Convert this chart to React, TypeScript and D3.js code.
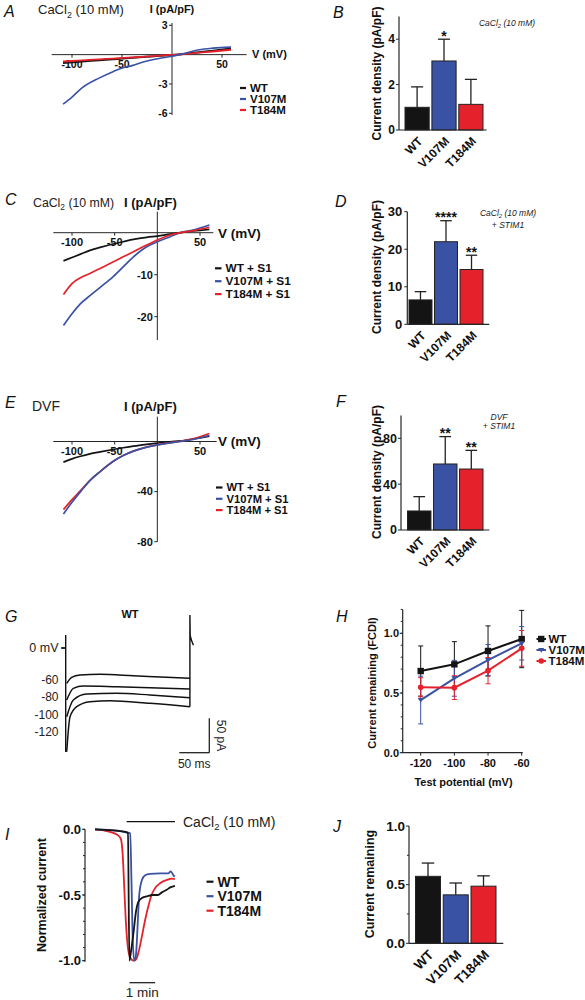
import React from 'react';
import * as d3 from 'd3';

const FONT = "'Liberation Sans', Arial, Helvetica, sans-serif";
const AXIS = '#262626';
const groups = ['WT', 'V107M', 'T184M'];
const groupColors = ['#141414', '#3a52a3', '#e5222b'];

// ---------- A: CaCl2 (10 mM) I-V ----------
const ivA_voltage = [-109, -100, -90, -73, -59, -49, -39, -26, -13, 0, 14, 27, 41, 59];
const ivA_WT = [-0.85, -0.78, -0.7, -0.58, -0.47, -0.4, -0.32, -0.22, -0.12, -0.03, 0.1, 0.25, 0.4, 0.62];
const ivA_V107M = [-5.07, -4.34, -3.4, -2.4, -1.74, -1.34, -1.1, -0.67, -0.4, -0.17, 0.17, 0.5, 0.67, 0.77];
const ivA_T184M = [-0.7, -0.65, -0.58, -0.48, -0.4, -0.34, -0.28, -0.2, -0.1, -0.02, 0.08, 0.2, 0.32, 0.5];
const ivA_xTicks = [-100, -50, 50];
const ivA_yTicks = [3, -3, -6];

// ---------- C: CaCl2 + STIM1 I-V ----------
const ivC_voltage = [-110, -100, -90, -79, -67, -52, -40, -28, -12.5, 0, 15, 27, 42, 61];
const ivC_WT = [-6.7, -5.9, -5.1, -4.2, -3.5, -2.7, -2.15, -1.6, -1.1, -0.8, -0.35, 0, 0.4, 0.8];
const ivC_V107M = [-22.1, -19.3, -16.9, -15.0, -13.0, -10.5, -8.15, -5.75, -3.35, -2.15, -0.95, 0, 0.65, 1.85];
const ivC_T184M = [-14.7, -12.1, -10.7, -9.7, -8.5, -6.95, -5.75, -4.55, -2.95, -1.75, -0.55, 0, 0.48, 1.3];
const ivC_xTicks = [-100, -50, 50];
const ivC_yTicks = [-10, -20];

// ---------- E: DVF + STIM1 I-V ----------
const ivE_voltage = [-110, -100, -90, -79, -67, -52, -40, -28, -12.5, 0, 15, 27, 42, 61];
const ivE_WT = [-16.5, -13.9, -11.8, -9.9, -8.3, -6.4, -5, -3.7, -2.3, -1.3, -0.2, 0.5, 2, 4.3];
const ivE_V107M = [-57.9, -48.5, -40, -31.2, -24, -16, -11.2, -7.7, -4.5, -2.7, -1.1, 0, 1.6, 4.8];
const ivE_T184M = [-54.4, -46.4, -39.2, -31, -24, -16, -11.2, -7.7, -4.5, -2.7, -1.0, 0.2, 2.2, 6.4];
const ivE_xTicks = [-100, -50, 50];
const ivE_yTicks = [-40, -80];

// ---------- Bar panels ----------
const barB_mean = [1.0, 3.04, 1.13];
const barB_err = [0.9, 0.96, 1.1];
const barB_stars = ['', '*', ''];
const barB_ticks = [0, 2, 4];

const barD_mean = [6.5, 22.0, 14.6];
const barD_err = [2.2, 5.6, 3.8];
const barD_stars = ['', '****', '**'];
const barD_ticks = [0, 10, 20, 30];

const barF_mean = [16.6, 57.6, 53.2];
const barF_err = [12.5, 23.9, 16.3];
const barF_stars = ['', '**', '**'];
const barF_ticks = [0, 40, 80];

const barJ_mean = [0.571, 0.413, 0.487];
const barJ_err = [0.113, 0.101, 0.088];
const barJ_stars = ['', '', ''];
const barJ_ticks = [0, 0.5, 1.0];
const barJ_minor = [0.25, 0.75];

// ---------- G: WT current traces (ms, pA) ----------
const gTrace1_t = [1.7, 10, 23.8, 57, 112.7, 168, 207];
const gTrace1_pA = [-51.3, -42.6, -39.2, -38.2, -40.3, -42.6, -44];
const gTrace2_t = [1.7, 12.7, 29.3, 85, 140.5, 207];
const gTrace2_pA = [-75.6, -58.6, -55.2, -56.3, -57.7, -59.6];
const gTrace3_t = [1.7, 12.7, 35, 85, 140.5, 207];
const gTrace3_pA = [-99.9, -75.6, -66.9, -65.8, -68.3, -72.2];
const gTrace4_t = [1.7, 7.2, 18.3, 40.5, 73.8, 140.5, 207];
const gTrace4_pA = [-150.7, -99.9, -85.3, -78, -76.6, -80.4, -85.3];
const gOnset_pA = [19, -151];
const gOffset_t = [207, 207, 207.5, 210, 213];
const gOffset_pA = [-85.3, 48, 18, 10, 4];
const gLevels = ['-60', '-80', '-100', '-120'];

// ---------- H: current remaining vs test potential ----------
const hVoltage = [-120, -100, -80, -60];
const hWT = [0.684, 0.74, 0.852, 0.952];
const hWT_err = [0.21, 0.19, 0.21, 0.24];
const hV107M = [0.441, 0.623, 0.776, 0.916];
const hV107M_err = [0.2, 0.15, 0.13, 0.14];
const hT184M = [0.548, 0.545, 0.687, 0.874];
const hT184M_err = [0.08, 0.1, 0.11, 0.15];
const hYTicks = [0, 0.5, 1.0];

// ---------- I: normalized current time course (min) ----------
const iWT_t = [0, 1.2, 1.28, 1.34, 1.4, 1.49, 1.6, 1.69, 1.85, 2.01, 2.27, 2.45, 2.6, 2.79, 2.95, 3.11];
const iWT_v = [0, -0.02, -0.03, -1.0, -0.93, -0.8, -0.62, -0.55, -0.52, -0.51, -0.5, -0.5, -0.48, -0.46, -0.44, -0.43];
const iV107M_t = [0, 0.9, 1.25, 1.37, 1.42, 1.47, 1.53, 1.58, 1.63, 1.68, 1.73, 1.82, 1.95, 2.14, 2.53, 2.85, 2.95, 3.05, 3.11];
const iV107M_v = [0, -0.01, -0.025, -0.03, -0.4, -0.85, -1.0, -0.98, -0.85, -0.64, -0.48, -0.39, -0.35, -0.34, -0.335, -0.335, -0.32, -0.35, -0.36];
const iT184M_t = [0, 0.5, 0.85, 1.0, 1.08, 1.14, 1.2, 1.28, 1.38, 1.5, 1.6, 1.7, 1.82, 1.95, 2.07, 2.2, 2.33, 2.53, 2.8, 3.0, 3.11];
const iT184M_v = [0, -0.015, -0.04, -0.07, -0.2, -0.45, -0.7, -0.9, -0.98, -1.0, -0.99, -0.93, -0.82, -0.69, -0.59, -0.5, -0.45, -0.41, -0.385, -0.375, -0.38];
const iYTicks = [0, -0.5, -1.0];
const iApplication = [1.23, 3.11];
const iScaleBar = [1.34, 2.34];

// ---------- helpers ----------
function CaCl2({ x, y, size, italic = false, anchor = 'start' }: any) {
  return (
    <text x={x} y={y} fontSize={size} fontStyle={italic ? 'italic' : 'normal'} textAnchor={anchor} fill="#222">
      CaCl<tspan fontSize={size * 0.68} dy={size * 0.28}>2</tspan>
      <tspan dy={-size * 0.28}> (10 mM)</tspan>
    </text>
  );
}

function PanelLetter({ x, y, t }: any) {
  return <text x={x} y={y} fontSize={16} fontStyle="italic" fill="#111">{t}</text>;
}

function pathXY(xs: any, ys: any, X: number[], Y: number[], curve: any = d3.curveMonotoneX) {
  return d3.line<number>().x(i => xs(X[i])).y(i => ys(Y[i])).curve(curve)(X.map((_, i) => i)) || '';
}

function Legend({ x, y, step, labels, colors, size, dash = 7 }: any) {
  return (
    <g>
      {labels.map((l: string, i: number) => (
        <g key={l}>
          <line x1={x} x2={x + dash} y1={y + i * step} y2={y + i * step} stroke={colors[i]} strokeWidth={2.2} />
          <text x={x + dash + 4} y={y + i * step} dy="0.35em" fontSize={size} fontWeight="bold" fill="#111">{l}</text>
        </g>
      ))}
    </g>
  );
}

function IVChart({ xs, ys, xLine, yLine, voltage, series, xTicks, yTicks, tickFont }: any) {
  const x0 = xs(0), y0 = ys(0);
  return (
    <g>
      <line x1={xLine[0]} x2={xLine[1]} y1={y0} y2={y0} stroke={AXIS} />
      <line x1={x0} x2={x0} y1={yLine[0]} y2={yLine[1]} stroke={AXIS} />
      {xTicks.map((t: number) => (
        <g key={'x' + t}>
          <line x1={xs(t)} x2={xs(t)} y1={y0} y2={y0 + 3} stroke={AXIS} />
          <text x={xs(t)} y={y0 + 13.5} textAnchor="middle" fontSize={tickFont} fontWeight="bold" fill="#111">{String(t)}</text>
        </g>
      ))}
      {yTicks.map((t: number) => (
        <g key={'y' + t}>
          <line x1={x0 - 3} x2={x0} y1={ys(t)} y2={ys(t)} stroke={AXIS} />
          <text x={x0 - 4.5} y={ys(t)} dy="0.35em" textAnchor="end" fontSize={tickFont} fontWeight="bold" fill="#111">{String(t)}</text>
        </g>
      ))}
      {series.map((s: any) => (
        <path key={s.name} d={pathXY(xs, ys, voltage, s.values)} fill="none" stroke={s.color} strokeWidth={s.width || 1.7} />
      ))}
    </g>
  );
}

function BarChart({ ys, axisX, bandRange, axisEnd, means, errs, stars, ticks, minor = [], fmt, tickFont, labelFont, tickGap = 4 }: any) {
  const band = d3.scaleBand().domain(groups).range(bandRange).paddingInner(0.1);
  const y0 = ys(0);
  const [yb, yt] = ys.range();
  const bw = band.bandwidth();
  return (
    <g>
      {groups.map((g, i) => {
        const bx = band(g) as number;
        const cx = bx + bw / 2;
        const top = ys(means[i]);
        const cap = ys(means[i] + errs[i]);
        return (
          <g key={g}>
            <line x1={cx} x2={cx} y1={top} y2={cap} stroke="#222" strokeWidth={1.3} />
            <line x1={cx - bw / 4} x2={cx + bw / 4} y1={cap} y2={cap} stroke="#222" strokeWidth={1.3} />
            <rect x={bx} y={top} width={bw} height={y0 - top} fill={groupColors[i]} stroke="#222" strokeWidth={1} />
            {stars[i] && (
              <text x={cx} y={cap + 1.5} textAnchor="middle" fontSize={14} fontWeight="bold" fill="#111">{stars[i]}</text>
            )}
            <text transform={`translate(${cx + 3},${y0 + 9}) rotate(-45)`} dy="0.35em" textAnchor="end" fontSize={labelFont} fontWeight="bold" fill="#111">{g}</text>
          </g>
        );
      })}
      <line x1={axisX} x2={axisEnd} y1={y0} y2={y0} stroke={AXIS} strokeWidth={1.2} />
      <line x1={axisX} x2={axisX} y1={yb} y2={yt} stroke={AXIS} strokeWidth={1.2} />
      {ticks.map((t: number) => (
        <g key={'t' + t}>
          <line x1={axisX - 3} x2={axisX} y1={ys(t)} y2={ys(t)} stroke={AXIS} />
          <text x={axisX - tickGap} y={ys(t)} dy="0.35em" textAnchor="end" fontSize={tickFont} fontWeight="bold" fill="#111">{fmt(t)}</text>
        </g>
      ))}
      {minor.map((t: number) => (
        <line key={'m' + t} x1={axisX - 2} x2={axisX} y1={ys(t)} y2={ys(t)} stroke={AXIS} />
      ))}
    </g>
  );
}

function YLabel({ x, y, size, text }: any) {
  return (
    <text transform={`translate(${x},${y}) rotate(-90)`} dy="0.35em" textAnchor="middle" fontSize={size} fontWeight="bold" fill="#111">{text}</text>
  );
}

// ---------- panels ----------
function PanelA() {
  const xs = d3.scaleLinear().domain([-100, 50]).range([72, 222]);
  const ys = d3.scaleLinear().domain([3, -6]).range([25.3, 113.3]);
  return (
    <g>
      <PanelLetter x={4} y={17} t="A" />
      <CaCl2 x={38} y={14} size={13} />
      <text x={xs(0)} y={13} textAnchor="middle" fontSize={11} fontWeight="bold" fill="#111">I (pA/pF)</text>
      <text x={252} y={58} fontSize={11} fontWeight="bold" fill="#111">V (mV)</text>
      <IVChart xs={xs} ys={ys} xLine={[51.7, 246.7]} yLine={[23, 115]} voltage={ivA_voltage}
        xTicks={ivA_xTicks} yTicks={ivA_yTicks} tickFont={10.5}
        series={[
          { name: 'WT', values: ivA_WT, color: groupColors[0], width: 2 },
          { name: 'T184M', values: ivA_T184M, color: groupColors[2], width: 1.8 },
          { name: 'V107M', values: ivA_V107M, color: groupColors[1], width: 1.6 },
        ]} />
      <Legend x={240} y={88} step={11} labels={groups} colors={groupColors} size={11.5} dash={6} />
    </g>
  );
}

function PanelB() {
  const ys = d3.scaleLinear().domain([0, 5]).range([130, 16.5]);
  return (
    <g>
      <PanelLetter x={333} y={18} t="B" />
      <BarChart ys={ys} axisX={399} bandRange={[405, 483]} axisEnd={486.7} means={barB_mean} errs={barB_err}
        stars={barB_stars} ticks={barB_ticks} fmt={(d: number) => String(d)} tickFont={12} labelFont={12} />
      <YLabel x={376.7} y={73.5} size={12} text="Current density (pA/pF)" />
      <CaCl2 x={507} y={26} size={8.5} italic anchor="middle" />
    </g>
  );
}

function PanelC() {
  const xs = d3.scaleLinear().domain([-100, 50]).range([72, 200]);
  const ys = d3.scaleLinear().domain([0, -20]).range([232.7, 316.7]);
  return (
    <g>
      <PanelLetter x={5} y={205} t="C" />
      <CaCl2 x={33} y={207} size={12.3} />
      <text x={124} y={207} fontSize={13} fontWeight="bold" fill="#111">I (pA/pF)</text>
      <text x={218} y={238} fontSize={13.5} fontWeight="bold" fill="#111">V (mV)</text>
      <IVChart xs={xs} ys={ys} xLine={[53.3, 213.3]} yLine={[211.7, 340]} voltage={ivC_voltage}
        xTicks={ivC_xTicks} yTicks={ivC_yTicks} tickFont={11}
        series={[
          { name: 'WT', values: ivC_WT, color: groupColors[0] },
          { name: 'V107M', values: ivC_V107M, color: groupColors[1] },
          { name: 'T184M', values: ivC_T184M, color: groupColors[2] },
        ]} />
      <Legend x={215} y={268.3} step={12.9} labels={['WT + S1', 'V107M + S1', 'T184M + S1']} colors={groupColors} size={11.8} dash={6.5} />
    </g>
  );
}

function PanelD() {
  const ys = d3.scaleLinear().domain([0, 30]).range([324.3, 211.7]);
  return (
    <g>
      <PanelLetter x={335} y={207} t="D" />
      <BarChart ys={ys} axisX={407.3} bandRange={[409, 483]} axisEnd={489.3} means={barD_mean} errs={barD_err}
        stars={barD_stars} ticks={barD_ticks} fmt={(d: number) => String(d)} tickFont={13} labelFont={12} tickGap={5} />
      <YLabel x={377} y={267} size={12} text="Current density (pA/pF)" />
      <CaCl2 x={508} y={216} size={8.5} italic anchor="middle" />
      <text x={508} y={228} fontSize={8.5} fontStyle="italic" textAnchor="middle" fill="#222">+ STIM1</text>
    </g>
  );
}

function PanelE() {
  const xs = d3.scaleLinear().domain([-100, 50]).range([72, 200]);
  const ys = d3.scaleLinear().domain([0, -80]).range([441.5, 541.7]);
  return (
    <g>
      <PanelLetter x={5} y={408} t="E" />
      <text x={32} y={411} fontSize={14} fill="#222">DVF</text>
      <text x={124} y={411} fontSize={13} fontWeight="bold" fill="#111">I (pA/pF)</text>
      <text x={218} y={446} fontSize={13.5} fontWeight="bold" fill="#111">V (mV)</text>
      <IVChart xs={xs} ys={ys} xLine={[53.3, 216.7]} yLine={[416.7, 541.7]} voltage={ivE_voltage}
        xTicks={ivE_xTicks} yTicks={ivE_yTicks} tickFont={11}
        series={[
          { name: 'WT', values: ivE_WT, color: groupColors[0] },
          { name: 'T184M', values: ivE_T184M, color: groupColors[2] },
          { name: 'V107M', values: ivE_V107M, color: groupColors[1] },
        ]} />
      <Legend x={216} y={487.5} step={11.3} labels={['WT + S1', 'V107M + S1', 'T184M + S1']} colors={groupColors} size={11.2} dash={6.5} />
    </g>
  );
}

function PanelF() {
  const ys = d3.scaleLinear().domain([0, 100]).range([530, 415.4]);
  return (
    <g>
      <PanelLetter x={336} y={407} t="F" />
      <BarChart ys={ys} axisX={401} bandRange={[407.5, 483]} axisEnd={489.3} means={barF_mean} errs={barF_err}
        stars={barF_stars} ticks={barF_ticks} fmt={(d: number) => String(d)} tickFont={12.5} labelFont={12} />
      <YLabel x={377} y={472} size={12} text="Current density (pA/pF)" />
      <text x={499} y={420} fontSize={8.5} fontStyle="italic" textAnchor="middle" fill="#222">DVF</text>
      <text x={499} y={429} fontSize={8.5} fontStyle="italic" textAnchor="middle" fill="#222">+ STIM1</text>
    </g>
  );
}

function PanelG() {
  const xs = d3.scaleLinear().domain([0, 50]).range([65.7, 95.7]);
  const ys = d3.scaleLinear().domain([0, -50]).range([648, 682.4]);
  const traces = [
    [gTrace1_t, gTrace1_pA],
    [gTrace2_t, gTrace2_pA],
    [gTrace3_t, gTrace3_pA],
    [gTrace4_t, gTrace4_pA],
  ];
  const sbT = [189.3, 239.3];
  const sbI = [-102.2, -152.2];
  return (
    <g>
      <PanelLetter x={5} y={622} t="G" />
      <text x={130} y={618} textAnchor="middle" fontSize={11} fontWeight="bold" fill="#111">WT</text>
      <line x1={xs(0)} x2={xs(0)} y1={ys(gOnset_pA[0])} y2={ys(gOnset_pA[1])} stroke="#111" strokeWidth={1.4} />
      {traces.map((tr, i) => (
        <path key={i} d={pathXY(xs, ys, tr[0], tr[1])} fill="none" stroke="#111" strokeWidth={1.5} />
      ))}
      <path d={pathXY(xs, ys, gOffset_t, gOffset_pA, d3.curveLinear)} fill="none" stroke="#111" strokeWidth={1.4} />
      <line x1={xs(-7.5)} x2={xs(-1)} y1={ys(0)} y2={ys(0)} stroke="#111" strokeWidth={1.8} />
      <text x={58.5} y={ys(0)} dy="0.35em" textAnchor="end" fontSize={12.5} fill="#222">0 mV</text>
      {gLevels.map((l, i) => (
        <text key={l} x={58.5} y={679.3 + i * 17.5} dy="0.35em" textAnchor="end" fontSize={12} fill="#222">{l}</text>
      ))}
      <line x1={xs(sbT[0])} x2={xs(sbT[1])} y1={ys(sbI[1])} y2={ys(sbI[1])} stroke="#111" strokeWidth={1.2} />
      <line x1={xs(sbT[1])} x2={xs(sbT[1])} y1={ys(sbI[0])} y2={ys(sbI[1])} stroke="#111" strokeWidth={1.2} />
      <text x={(xs(sbT[0]) + xs(sbT[1])) / 2} y={763.5} dy="0.35em" textAnchor="middle" fontSize={12} fill="#222">50 ms</text>
      <text transform={`translate(${xs(sbT[1]) + 12},${(ys(sbI[0]) + ys(sbI[1])) / 2}) rotate(90)`} dy="0.35em" textAnchor="middle" fontSize={12} fill="#222">50 pA</text>
    </g>
  );
}

function PanelH() {
  const xs = d3.scaleLinear().domain([-120, -60]).range([420.7, 521.7]);
  const ys = d3.scaleLinear().domain([0, 1]).range([752.7, 633.3]);
  const series = [
    { name: 'WT', v: hWT, e: hWT_err, c: groupColors[0], m: 'square' },
    { name: 'V107M', v: hV107M, e: hV107M_err, c: groupColors[1], m: 'tri' },
    { name: 'T184M', v: hT184M, e: hT184M_err, c: groupColors[2], m: 'circle' },
  ];
  const marker = (m: string, x: number, y: number, c: string) => {
    if (m === 'square') return <rect x={x - 3.2} y={y - 3.2} width={6.4} height={6.4} fill={c} />;
    if (m === 'tri') return <path d={`M${x - 3},${y - 2} L${x + 3},${y - 2} L${x},${y + 2.8} Z`} fill={c} />;
    return <circle cx={x} cy={y} r={2.8} fill={c} />;
  };
  const minor = d3.range(0, 1.21, 0.1);
  return (
    <g>
      <PanelLetter x={336} y={622} t="H" />
      {series.map(s => (
        <g key={s.name}>
          {hVoltage.map((v, i) => (
            <g key={v}>
              <line x1={xs(v)} x2={xs(v)} y1={ys(s.v[i] - s.e[i])} y2={ys(s.v[i] + s.e[i])} stroke={s.c} strokeWidth={1} />
              <line x1={xs(v) - 2.5} x2={xs(v) + 2.5} y1={ys(s.v[i] - s.e[i])} y2={ys(s.v[i] - s.e[i])} stroke={s.c} strokeWidth={1} />
              <line x1={xs(v) - 2.5} x2={xs(v) + 2.5} y1={ys(s.v[i] + s.e[i])} y2={ys(s.v[i] + s.e[i])} stroke={s.c} strokeWidth={1} />
            </g>
          ))}
        </g>
      ))}
      {series.map(s => (
        <g key={s.name + 'l'}>
          <path d={pathXY(xs, ys, hVoltage, s.v, d3.curveLinear)} fill="none" stroke={s.c} strokeWidth={2} />
          {hVoltage.map((v, i) => <g key={v}>{marker(s.m, xs(v), ys(s.v[i]), s.c)}</g>)}
        </g>
      ))}
      <line x1={402.7} x2={522.7} y1={ys(0)} y2={ys(0)} stroke={AXIS} strokeWidth={1.2} />
      <line x1={402.7} x2={402.7} y1={ys(0)} y2={ys(1.2)} stroke={AXIS} strokeWidth={1.2} />
      {minor.map(t => <line key={'m' + t} x1={400.7} x2={402.7} y1={ys(t)} y2={ys(t)} stroke={AXIS} />)}
      {hYTicks.map(t => (
        <g key={t}>
          <line x1={399.7} x2={402.7} y1={ys(t)} y2={ys(t)} stroke={AXIS} />
          <text x={399} y={ys(t)} dy="0.35em" textAnchor="end" fontSize={11} fontWeight="bold" fill="#111">{t.toFixed(1)}</text>
        </g>
      ))}
      {hVoltage.map(v => (
        <g key={v}>
          <line x1={xs(v)} x2={xs(v)} y1={ys(0)} y2={ys(0) + 3} stroke={AXIS} />
          <text x={xs(v)} y={763.3} dy="0.35em" textAnchor="middle" fontSize={11} fontWeight="bold" fill="#111">{String(v)}</text>
        </g>
      ))}
      <text x={463.5} y={781.7} dy="0.35em" textAnchor="middle" fontSize={11} fontWeight="bold" fill="#111">Test potential (mV)</text>
      <YLabel x={371.7} y={683} size={11} text="Current remaining (FCDI)" />
      {series.map((s, i) => (
        <g key={s.name + 'lg'}>
          <line x1={536.5} x2={546} y1={639 + i * 11} y2={639 + i * 11} stroke={s.c} strokeWidth={2} />
          {marker(s.m, 541.2, 639 + i * 11, s.c)}
          <text x={548.5} y={639 + i * 11} dy="0.35em" fontSize={11.5} fontWeight="bold" fill="#111">{s.name}</text>
        </g>
      ))}
    </g>
  );
}

function PanelI() {
  const xs = d3.scaleLinear().domain([0, 1]).range([95, 120.7]);
  const ys = d3.scaleLinear().domain([0, -1]).range([829.3, 960.7]);
  const minor = d3.range(0, -1.01, -0.1);
  return (
    <g>
      <PanelLetter x={5} y={840} t="I" />
      <line x1={85} x2={85} y1={ys(0)} y2={961.7} stroke={AXIS} strokeWidth={1.2} />
      {minor.map((t, i) => <line key={i} x1={83} x2={85} y1={ys(t)} y2={ys(t)} stroke={AXIS} />)}
      {iYTicks.map(t => (
        <g key={t}>
          <line x1={82} x2={85} y1={ys(t)} y2={ys(t)} stroke={AXIS} />
          <text x={81} y={ys(t)} dy="0.35em" textAnchor="end" fontSize={13} fontWeight="bold" fill="#111">{t.toFixed(1)}</text>
        </g>
      ))}
      <YLabel x={41.7} y={895} size={12.5} text="Normalized current" />
      <path d={pathXY(xs, ys, iT184M_t, iT184M_v)} fill="none" stroke={groupColors[2]} strokeWidth={1.8} />
      <path d={pathXY(xs, ys, iV107M_t, iV107M_v)} fill="none" stroke={groupColors[1]} strokeWidth={1.8} />
      <path d={pathXY(xs, ys, iWT_t, iWT_v)} fill="none" stroke={groupColors[0]} strokeWidth={1.8} />
      <line x1={xs(iApplication[0])} x2={xs(iApplication[1])} y1={821.7} y2={821.7} stroke="#111" strokeWidth={1.2} />
      <CaCl2 x={183} y={826.5} size={14} />
      <line x1={xs(iScaleBar[0])} x2={xs(iScaleBar[1])} y1={982.7} y2={982.7} stroke="#111" strokeWidth={1.2} />
      <text x={(xs(iScaleBar[0]) + xs(iScaleBar[1])) / 2} y={992.5} dy="0.35em" textAnchor="middle" fontSize={13.5} fill="#222">1 min</text>
      <Legend x={206.5} y={881.7} step={14.5} labels={groups} colors={groupColors} size={14} dash={7} />
    </g>
  );
}

function PanelJ() {
  const ys = d3.scaleLinear().domain([0, 1]).range([943.3, 826]);
  return (
    <g>
      <PanelLetter x={333} y={832} t="J" />
      <BarChart ys={ys} axisX={409} bandRange={[415.5, 496]} axisEnd={503.3} means={barJ_mean} errs={barJ_err}
        stars={barJ_stars} ticks={barJ_ticks} minor={barJ_minor} fmt={(d: number) => d.toFixed(1)} tickFont={13.5} labelFont={13.5} />
      <YLabel x={370} y={884} size={12.5} text="Current remaining" />
    </g>
  );
}

export default function App() {
  return (
    <svg width={585} height={1000} viewBox="0 0 585 1000" fontFamily={FONT}
      style={{ position: 'absolute', left: 0, top: 0, display: 'block', background: '#fff' }}>
      <rect x={0} y={0} width={585} height={1000} fill="#fff" />
      <PanelA />
      <PanelB />
      <PanelC />
      <PanelD />
      <PanelE />
      <PanelF />
      <PanelG />
      <PanelH />
      <PanelI />
      <PanelJ />
    </svg>
  );
}
